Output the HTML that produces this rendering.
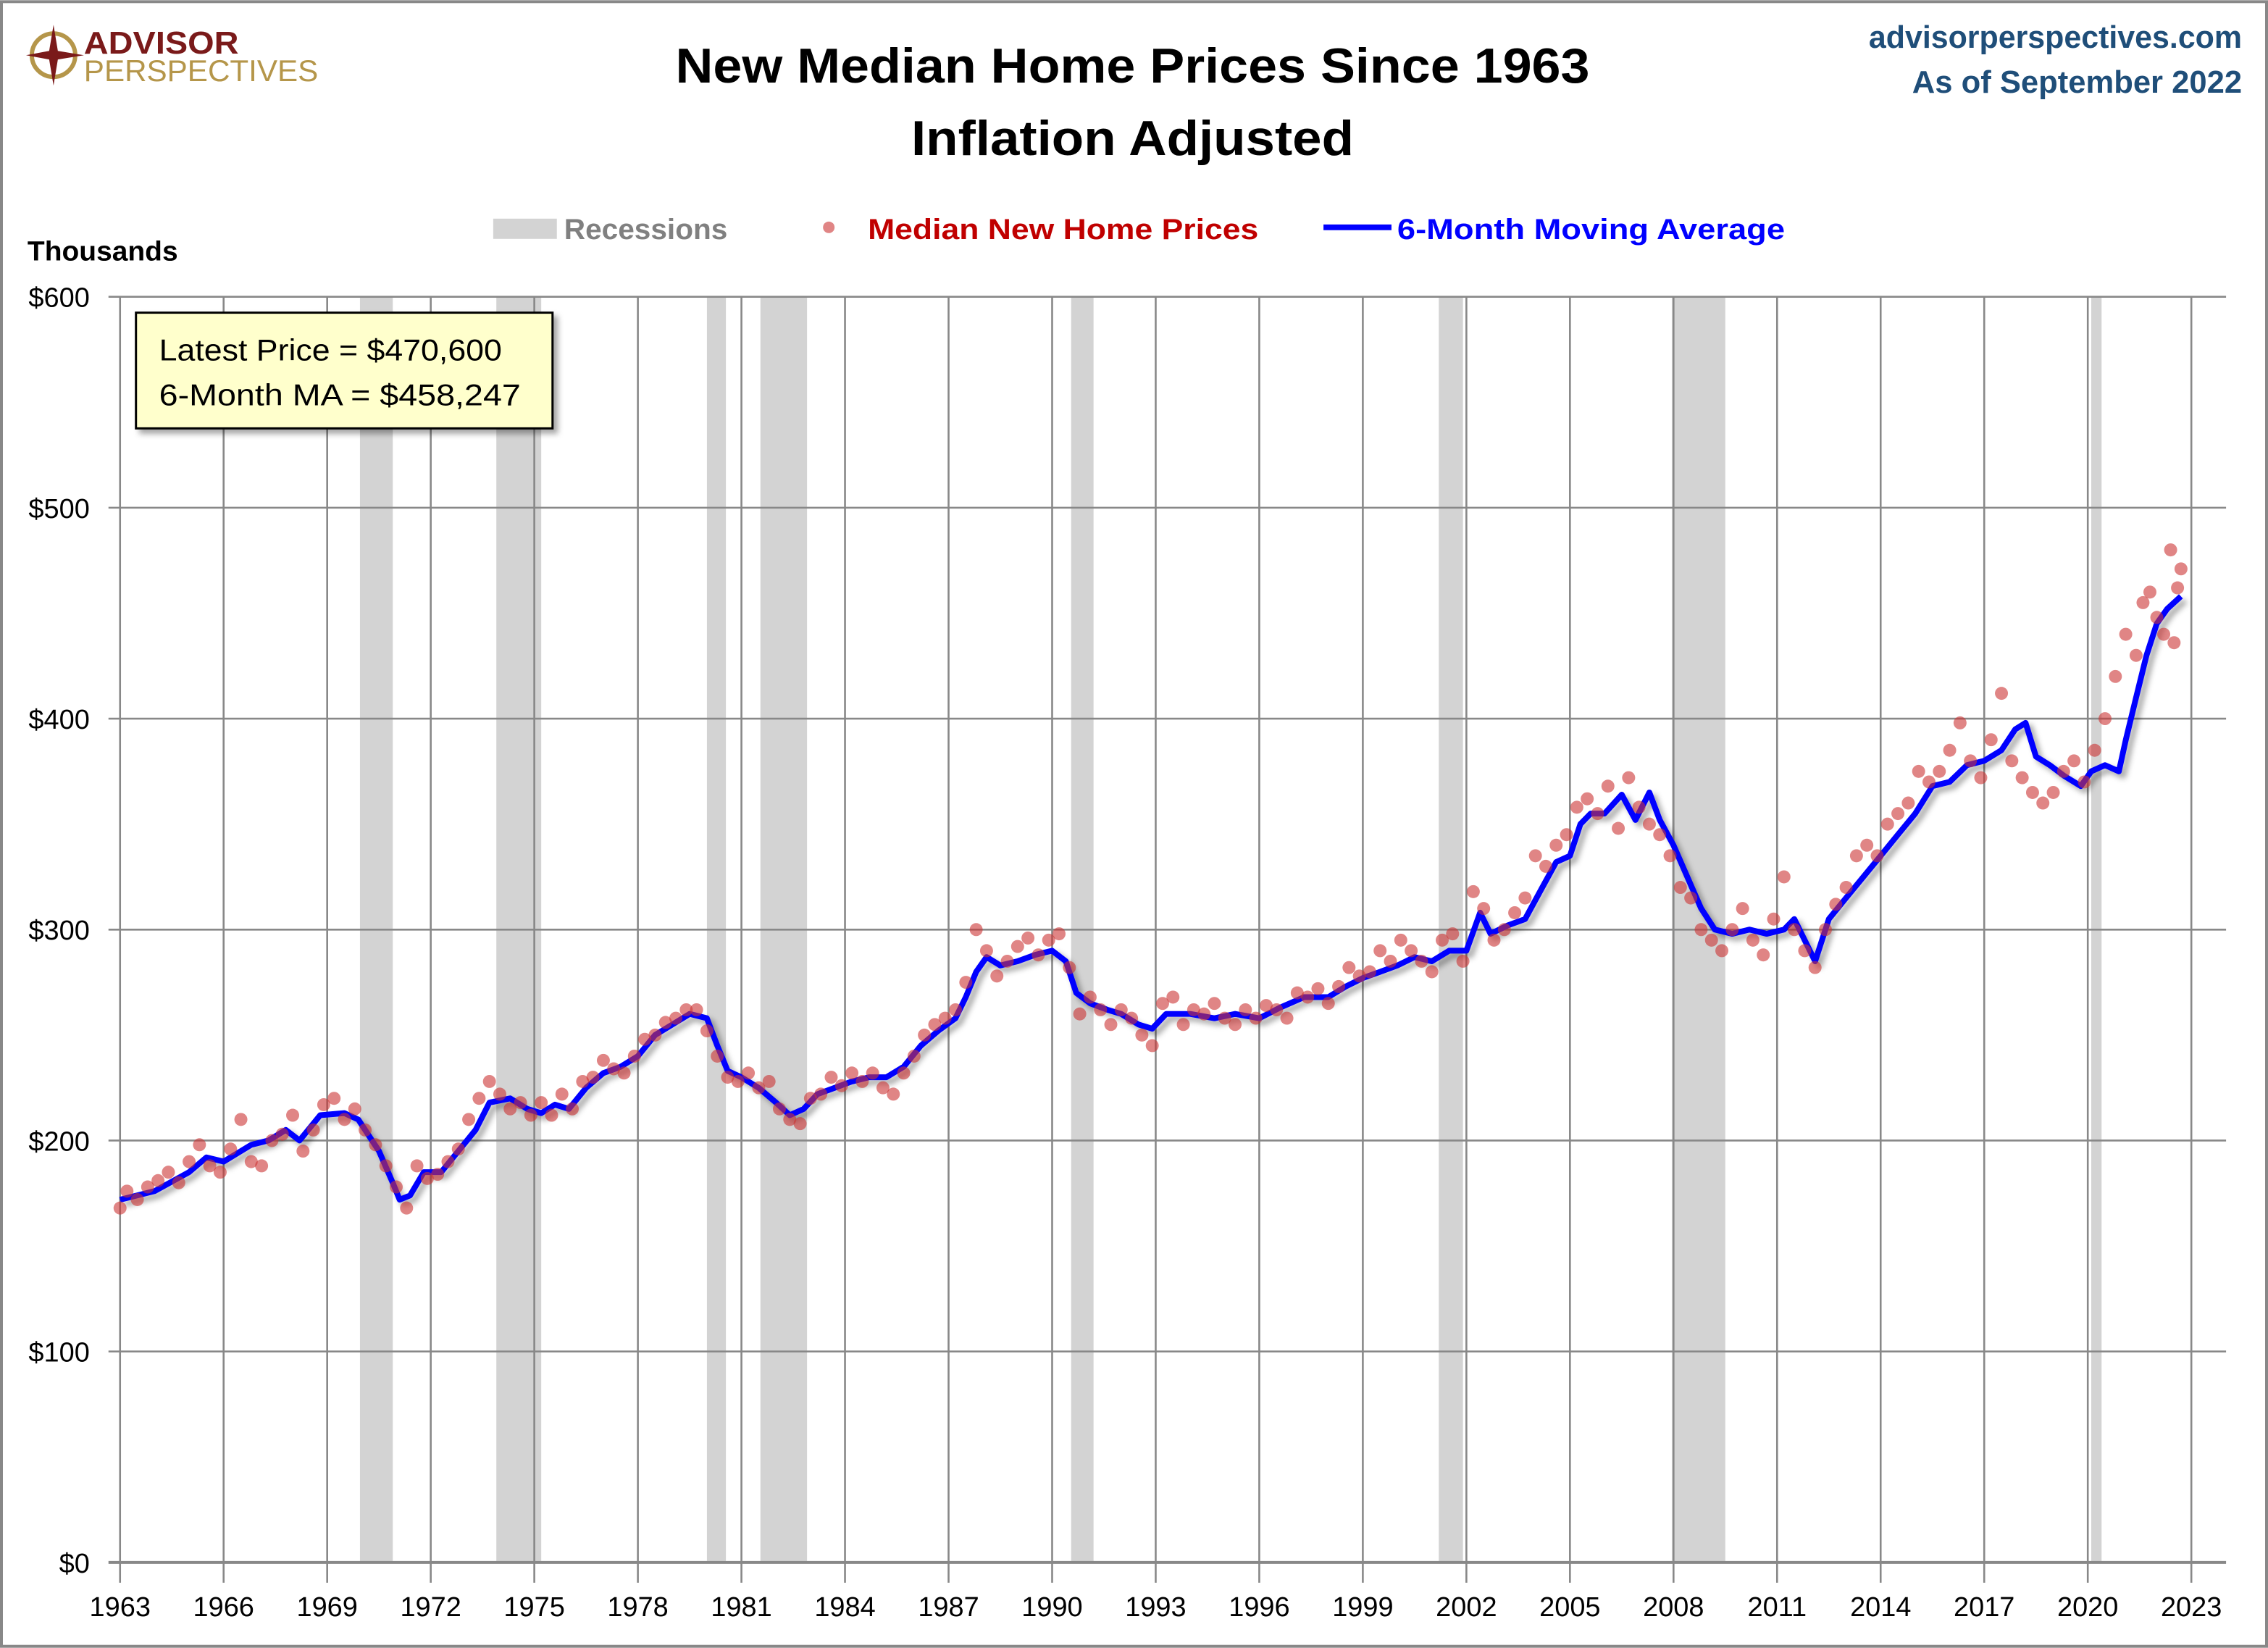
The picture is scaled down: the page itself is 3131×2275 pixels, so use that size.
<!DOCTYPE html>
<html><head><meta charset="utf-8"><style>
html,body{margin:0;padding:0;background:#fff;}
svg{display:block;}
text{font-family:"Liberation Sans",sans-serif;}
</style></head><body>
<svg id="chart" width="3131" height="2275" viewBox="0 0 1568 1139" xmlns="http://www.w3.org/2000/svg">
<defs>
<filter id="sh" x="-10%" y="-10%" width="130%" height="130%"><feDropShadow dx="3" dy="3" stdDeviation="2" flood-color="#000" flood-opacity="0.35"/></filter>
</defs>
<rect x="1" y="1" width="1566" height="1137" fill="#fff" stroke="#888" stroke-width="2"/>
<g>
<circle cx="37" cy="38" r="15" fill="none" stroke="#b5964a" stroke-width="3"/>
<polygon points="37,17 40,35 58,38 40,41 37,59 34,41 18,38 34,35" fill="#7a1a1a"/>
<text x="58" y="37" font-size="22" font-weight="bold" fill="#7a1a1a" textLength="107" lengthAdjust="spacingAndGlyphs">ADVISOR</text>
<text x="58" y="56" font-size="21" fill="#b5964a" textLength="162" lengthAdjust="spacingAndGlyphs">PERSPECTIVES</text>
</g>
<text x="783" y="57" font-size="34" font-weight="bold" text-anchor="middle" textLength="632" lengthAdjust="spacingAndGlyphs">New Median Home Prices Since 1963</text>
<text x="783" y="107" font-size="34" font-weight="bold" text-anchor="middle" textLength="306" lengthAdjust="spacingAndGlyphs">Inflation Adjusted</text>
<text x="1550" y="33" font-size="22" font-weight="bold" fill="#1f4e79" text-anchor="end" textLength="258" lengthAdjust="spacingAndGlyphs">advisorperspectives.com</text>
<text x="1550" y="64" font-size="22" font-weight="bold" fill="#1f4e79" text-anchor="end" textLength="228" lengthAdjust="spacingAndGlyphs">As of September 2022</text>
<g>
<rect x="341" y="151" width="44" height="14" fill="#d3d3d3"/>
<text x="390" y="165" font-size="20" font-weight="bold" fill="#808080" textLength="113" lengthAdjust="spacingAndGlyphs">Recessions</text>
<circle cx="573" cy="157" r="4" fill="#cc3333" fill-opacity="0.6"/>
<text x="600" y="165" font-size="20" font-weight="bold" fill="#c00000" textLength="270" lengthAdjust="spacingAndGlyphs">Median New Home Prices</text>
<line x1="915" y1="157" x2="962" y2="157" stroke="#0000ff" stroke-width="4"/>
<text x="966" y="165" font-size="20" font-weight="bold" fill="#0000ff" textLength="268" lengthAdjust="spacingAndGlyphs">6-Month Moving Average</text>
</g>
<text x="19" y="180" font-size="19" font-weight="bold" textLength="104" lengthAdjust="spacingAndGlyphs">Thousands</text>
<g id="plot"></g>
<g>
<rect x="94" y="216" width="288" height="80" fill="#ffffcc" stroke="#000" stroke-width="1.5" filter="url(#sh)"/>
<text x="110" y="249" font-size="21" textLength="237" lengthAdjust="spacingAndGlyphs">Latest Price = $470,600</text>
<text x="110" y="280" font-size="21" textLength="250" lengthAdjust="spacingAndGlyphs">6-Month MA = $458,247</text>
</g>
</svg>
<script>
const yTicks = [0,100,200,300,400,500,600];
const xTicks = [1963,1966,1969,1972,1975,1978,1981,1984,1987,1990,1993,1996,1999,2002,2005,2008,2011,2014,2017,2020,2023];
const recessionStart = [1969.95,1973.9,1980.0,1981.55,1990.55,2001.2,2007.95,2020.1];
const recessionEnd = [1970.9,1975.2,1980.55,1982.9,1991.2,2001.9,2009.5,2020.4];
const maYears = [1963,1964,1965,1965.5,1966,1966.8,1967.3,1967.8,1968.2,1968.8,1969.5,1969.9,1970.5,1970.9,1971.1,1971.4,1971.8,1972.3,1972.8,1973.3,1973.7,1974.3,1974.8,1975.2,1975.6,1976,1976.5,1977,1977.5,1978,1978.5,1979,1979.5,1980,1980.3,1980.6,1981,1981.5,1982,1982.4,1982.8,1983.2,1983.7,1984.2,1984.7,1985.2,1985.7,1986.2,1986.7,1987.2,1987.5,1987.8,1988.1,1988.5,1989,1989.5,1990,1990.4,1990.7,1991.1,1991.6,1992,1992.5,1992.9,1993.3,1994,1994.7,1995.3,1996,1996.6,1997.3,1998,1998.5,1999,1999.5,2000,2000.5,2001,2001.5,2002,2002.4,2002.7,2003.2,2003.7,2004.2,2004.6,2005,2005.3,2005.6,2006,2006.5,2006.9,2007.3,2007.6,2008,2008.4,2008.8,2009.2,2009.7,2010.2,2010.7,2011.2,2011.5,2011.8,2012.1,2012.5,2013,2013.5,2014,2014.5,2015,2015.5,2016,2016.5,2017,2017.5,2017.9,2018.2,2018.5,2018.9,2019.3,2019.8,2020.1,2020.5,2020.9,2021.1,2021.4,2021.7,2022.0,2022.3,2022.7];
const maValues = [172,176,185,192,190,198,200,205,200,212,213,210,195,180,172,174,185,185,195,205,218,220,215,213,217,215,225,232,235,240,250,255,260,258,245,233,230,225,218,212,215,222,225,228,230,230,235,245,252,258,268,280,287,283,285,288,290,285,270,265,262,260,255,253,260,260,258,260,258,263,268,268,273,277,280,283,287,285,290,290,308,298,302,305,320,332,335,350,355,355,364,352,365,352,340,325,310,300,298,300,298,300,305,295,285,305,315,325,335,345,355,368,370,378,380,385,395,398,382,378,373,368,375,378,375,390,410,430,445,452,458];
const priceYears = [1963.0,1963.2,1963.5,1963.8,1964.1,1964.4,1964.7,1965.0,1965.3,1965.6,1965.9,1966.2,1966.5,1966.8,1967.1,1967.4,1967.7,1968.0,1968.3,1968.6,1968.9,1969.2,1969.5,1969.8,1970.1,1970.4,1970.7,1971.0,1971.3,1971.6,1971.9,1972.2,1972.5,1972.8,1973.1,1973.4,1973.7,1974.0,1974.3,1974.6,1974.9,1975.2,1975.5,1975.8,1976.1,1976.4,1976.7,1977.0,1977.3,1977.6,1977.9,1978.2,1978.5,1978.8,1979.1,1979.4,1979.7,1980.0,1980.3,1980.6,1980.9,1981.2,1981.5,1981.8,1982.1,1982.4,1982.7,1983.0,1983.3,1983.6,1983.9,1984.2,1984.5,1984.8,1985.1,1985.4,1985.7,1986.0,1986.3,1986.6,1986.9,1987.2,1987.5,1987.8,1988.1,1988.4,1988.7,1989.0,1989.3,1989.6,1989.9,1990.2,1990.5,1990.8,1991.1,1991.4,1991.7,1992.0,1992.3,1992.6,1992.9,1993.2,1993.5,1993.8,1994.1,1994.4,1994.7,1995.0,1995.3,1995.6,1995.9,1996.2,1996.5,1996.8,1997.1,1997.4,1997.7,1998.0,1998.3,1998.6,1998.9,1999.2,1999.5,1999.8,2000.1,2000.4,2000.7,2001.0,2001.3,2001.6,2001.9,2002.2,2002.5,2002.8,2003.1,2003.4,2003.7,2004.0,2004.3,2004.6,2004.9,2005.2,2005.5,2005.8,2006.1,2006.4,2006.7,2007.0,2007.3,2007.6,2007.9,2008.2,2008.5,2008.8,2009.1,2009.4,2009.7,2010.0,2010.3,2010.6,2010.9,2011.2,2011.5,2011.8,2012.1,2012.4,2012.7,2013.0,2013.3,2013.6,2013.9,2014.2,2014.5,2014.8,2015.1,2015.4,2015.7,2016.0,2016.3,2016.6,2016.9,2017.2,2017.5,2017.8,2018.1,2018.4,2018.7,2019.0,2019.3,2019.6,2019.9,2020.2,2020.5,2020.8,2021.1,2021.4,2021.6,2021.8,2022.0,2022.2,2022.4,2022.5,2022.6,2022.7];
const priceValues = [168,176,172,178,181,185,180,190,198,188,185,196,210,190,188,200,203,212,195,205,217,220,210,215,205,198,188,178,168,188,182,184,190,196,210,220,228,222,215,218,212,218,212,222,215,228,230,238,234,232,240,248,250,256,258,262,262,252,240,230,228,232,225,228,215,210,208,220,222,230,226,232,228,232,225,222,232,240,250,255,258,262,275,300,290,278,285,292,296,288,295,298,282,260,268,262,255,262,258,250,245,265,268,255,262,260,265,258,255,262,258,264,262,258,270,268,272,265,273,282,278,280,290,285,295,290,285,280,295,298,285,318,310,295,300,308,315,335,330,340,345,358,362,355,368,348,372,358,350,345,335,320,315,300,295,290,300,310,295,288,305,325,300,290,282,300,312,320,335,340,335,350,355,360,375,370,375,385,398,380,372,390,412,380,372,365,360,365,375,380,370,385,400,420,440,430,455,460,448,440,480,436,462,471];
const X0=83, X1=1515, Y0=1080, Y1=205;
function xs(y){return X0+(y-1963)/60*(X1-X0);}
function ys(v){return Y0-v/600*(Y0-Y1);}
const NS='http://www.w3.org/2000/svg';
const plot=document.getElementById('plot');
function mk(tag,attrs,parent){const e=document.createElementNS(NS,tag);for(const k in attrs)e.setAttribute(k,attrs[k]);(parent||plot).appendChild(e);return e;}
recessionStart.forEach((s,i)=>{
  const r=mk('rect',{x:xs(s),y:Y1,width:xs(recessionEnd[i])-xs(s),height:Y0-Y1,fill:'#d3d3d3'});
  
  
});
yTicks.forEach(v=>{
  const l=mk('line',{x1:75,x2:1539,y1:ys(v),y2:ys(v),stroke:'#888',"stroke-width":v===0?2:1.3});
  
  
  const t=mk('text',{x:62,y:ys(v)+7,"font-size":19,"text-anchor":"end"});
  t.textContent='$'+v;
  
  
});
xTicks.forEach(yr=>{
  const l=mk('line',{x1:xs(yr),x2:xs(yr),y1:Y1,y2:Y0+14,stroke:'#888',"stroke-width":1.3});
  
  
  const t=mk('text',{x:xs(yr),y:1117,"font-size":19,"text-anchor":"middle"});
  t.textContent=yr;
  
  
});
const d=maYears.map((y,i)=>(i?'L':'M')+xs(y).toFixed(1)+','+ys(maValues[i]).toFixed(1)).join('');
const line=mk('path',{d:d,fill:'none',stroke:'#0000ff',"stroke-width":4,"stroke-linejoin":"round",filter:'url(#sh)'});


const nPts=Math.min(priceYears.length,priceValues.length);
for(let i=0;i<nPts;i++){
  const c=mk('circle',{cx:xs(priceYears[i]),cy:ys(priceValues[i]),r:4.5,fill:'#cc3333',"fill-opacity":0.6});
  
  
}
</script>
</body></html>
